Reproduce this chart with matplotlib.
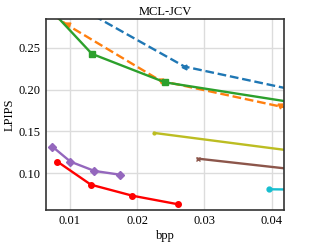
import matplotlib
matplotlib.use("Agg")
import matplotlib.pyplot as plt

plt.rcParams['font.family'] = ['Liberation Serif', 'DejaVu Serif']

# bpp / LPIPS points per method
blue_x = [0.0120, 0.02704, 0.0500]
blue_y = [0.2955, 0.2275, 0.1880]
orange_x = [0.0075, 0.00973, 0.0235, 0.04124, 0.0500]
orange_y = [0.2897, 0.2768, 0.2105, 0.1798, 0.1700]
green_x = [0.0070, 0.0133, 0.02417, 0.0500]
green_y = [0.2970, 0.2427, 0.2086, 0.1760]
red_x = [0.00819, 0.01315, 0.01932, 0.02614]
red_y = [0.1139, 0.0864, 0.0732, 0.0629]
purple_x = [0.00745, 0.01012, 0.01368, 0.01749]
purple_y = [0.1318, 0.1139, 0.1028, 0.0983]
brown_x = [0.02902, 0.0500]
brown_y = [0.1175, 0.0986]
olive_x = [0.02254, 0.0550]
olive_y = [0.1482, 0.1143]
cyan_x = [0.03965, 0.0600]
cyan_y = [0.0809, 0.0790]

fig = plt.figure(figsize=(3.09, 2.47), dpi=100)
ax = fig.add_axes([0.149, 0.151, 0.77, 0.771])

ax.plot(blue_x, blue_y, color='tab:blue', ls='--', lw=1.7, marker='<', ms=3.5)
ax.plot(orange_x, orange_y, color='tab:orange', ls='--', lw=1.7, marker='v', ms=3.5)
ax.plot(green_x, green_y, color='tab:green', lw=1.7, marker='s', ms=4)
ax.plot(red_x, red_y, color='red', lw=1.7, marker='o', ms=4)
ax.plot(purple_x, purple_y, color='tab:purple', lw=1.7, marker='D', ms=4)
ax.plot(brown_x, brown_y, color='tab:brown', lw=1.7, marker='x', ms=3.5)
ax.plot(olive_x, olive_y, color='tab:olive', lw=1.7, marker='.', ms=4)
ax.plot(cyan_x, cyan_y, color='tab:cyan', lw=1.7, marker='o', ms=3.5)

ax.set_xlim(0.0065, 0.0418)
ax.set_ylim(0.0565, 0.284)
ax.set_xticks([0.01, 0.02, 0.03, 0.04])
ax.set_xticklabels(['0.01', '0.02', '0.03', '0.04'])
ax.set_yticks([0.10, 0.15, 0.20, 0.25])
ax.set_yticklabels(['0.10', '0.15', '0.20', '0.25'])
ax.grid(True, color='#dcdcdc', lw=1)
ax.set_axisbelow(True)
ax.tick_params(length=0, labelsize=9, pad=4)
for s in ax.spines.values():
    s.set_color('#333333')
    s.set_linewidth(1.2)

ax.set_title('MCL-JCV', fontsize=9, pad=3)
ax.set_xlabel('bpp', fontsize=9, labelpad=2)
ax.set_ylabel('LPIPS', fontsize=9, labelpad=2)

fig.savefig('out.png', dpi=100)
